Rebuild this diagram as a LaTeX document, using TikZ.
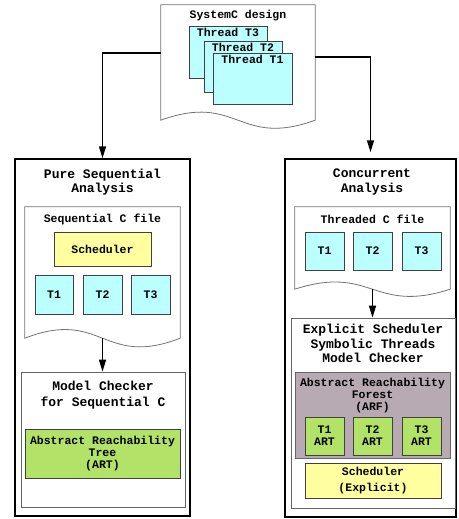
\documentclass[tikz,border=0pt]{standalone}
\usepackage{fontspec}
\setmainfont{Liberation Mono}
\usetikzlibrary{arrows.meta}
\definecolor{thrcyan}{RGB}{188,255,255}
\definecolor{schyel}{RGB}{255,255,160}
\definecolor{artgrn}{RGB}{178,226,104}
\definecolor{arfgry}{RGB}{184,170,178}
% document outline with a wavy bottom edge
\newcommand{\docwave}[3]{%
  \draw[docline] (#1.north west) -- (#1.north east) -- (#1.south east)
    .. controls +(-#2,#3) and +(#2,-#3) .. (#1.south west) -- cycle;}

\begin{document}
\begin{tikzpicture}[x=1pt,y=1pt,yscale=-1,xscale=1,
  bigbox/.style={draw=black,line width=1.5pt,fill=white,inner sep=0pt},
  panel/.style={draw=black!60,line width=0.8pt,fill=white,inner sep=0pt},
  docline/.style={draw=black!55,line width=0.8pt,fill=white},
  doc/.style={inner sep=0pt},
  tbox/.style={draw=black!75,line width=0.7pt,fill=thrcyan,inner sep=0pt},
  sbox/.style={draw=black!75,line width=0.7pt,fill=schyel,inner sep=0pt},
  abox/.style={draw=black!75,line width=0.7pt,fill=artgrn,inner sep=0pt},
  fbox/.style={draw=black!60,line width=0.8pt,fill=arfgry,inner sep=0pt},
  ttl/.style={font=\bfseries\fontsize{13}{14.5}\selectfont,align=center},
  txt/.style={font=\bfseries\fontsize{11.5}{12}\selectfont,align=center},
  flow/.style={line width=1.5pt,-{Triangle[length=12pt,width=7pt]}}
]
\useasboundingbox (0,0) rectangle (458,519);

% Text Node
\node[doc,minimum width=154,minimum height=115] (sysdoc) at (238,62.5) {};
\docwave{sysdoc}{77}{28}
\node[txt] (systtl) at (238,16) {SystemC design};
\node[tbox,minimum width=78,minimum height=52,label={[txt,anchor=north,inner sep=2pt]north:Thread T3}] (th3) at (228,52) {};
\node[tbox,minimum width=78,minimum height=51,label={[txt,anchor=north,inner sep=2pt]north:Thread T2}] (th2) at (243,66.5) {};
\node[tbox,minimum width=79,minimum height=51,label={[txt,anchor=north,inner sep=2pt]north:Thread T1}] (th1) at (252.5,78.5) {};

% Text Node
\node[bigbox,minimum width=175,minimum height=357] (leftbox) at (102.5,337.5) {};
\node[ttl] (lefttl) at (102.5,182) {Pure Sequential\\Analysis};
\node[doc,minimum width=155,minimum height=131] (seqdoc) at (102.5,272.5) {};
\docwave{seqdoc}{77.5}{30}
\node[txt] (seqttl) at (102.5,219) {Sequential C file};
\node[sbox,minimum width=97,minimum height=34,txt] (seqsch) at (102.5,249) {Scheduler};
\node[tbox,minimum width=38,minimum height=39,txt] (seqt1) at (54,294.5) {T1};
\node[tbox,minimum width=39,minimum height=39,txt] (seqt2) at (102.5,294.5) {T2};
\node[tbox,minimum width=39,minimum height=39,txt] (seqt3) at (150.5,294.5) {T3};
\node[panel,minimum width=164,minimum height=135] (mcbox) at (103,439.5) {};
\node[ttl,font=\bfseries\fontsize{13}{16}\selectfont] (mcttl) at (103,395) {Model Checker\\for Sequential C};
\node[abox,minimum width=155,minimum height=49,txt] (art) at (102.5,453.5) {Abstract Reachability\\Tree\\(ART)};

% Text Node
\node[bigbox,minimum width=171,minimum height=358] (rightbox) at (370.5,338) {};
\node[ttl] (rightttl) at (372,182) {Concurrent\\Analysis};
\node[doc,minimum width=155,minimum height=82] (thrdoc) at (372.5,248) {};
\docwave{thrdoc}{77.5}{25}
\node[txt] (thrttl) at (372.5,219) {Threaded C file};
\node[tbox,minimum width=39,minimum height=38,txt] (thrt1) at (324.5,251) {T1};
\node[tbox,minimum width=39,minimum height=38,txt] (thrt2) at (372.5,251) {T2};
\node[tbox,minimum width=39,minimum height=38,txt] (thrt3) at (421.5,251) {T3};
\node[panel,minimum width=164,minimum height=190] (escbox) at (373,413) {};
\node[ttl] (escttl) at (373,343.5) {Explicit Scheduler\\Symbolic Threads\\Model Checker};
\node[fbox,minimum width=155,minimum height=86,label={[txt,anchor=north,yshift=-3pt]north:{Abstract Reachability\\Forest\\(ARF)}}] (arf) at (372.5,415) {};
\node[abox,minimum width=39,minimum height=38,txt] (art1) at (324.5,436) {T1\\ART};
\node[abox,minimum width=39,minimum height=38,txt] (art2) at (372.5,436) {T2\\ART};
\node[abox,minimum width=39,minimum height=38,txt] (art3) at (421.5,436) {T3\\ART};
\node[sbox,minimum width=136,minimum height=35,txt,font=\bfseries\fontsize{11.5}{15.5}\selectfont] (escsch) at (373,480.5) {Scheduler\\(Explicit)};

% Connection
\draw[flow] ([yshift=-9.5pt]sysdoc.west) -| (leftbox.north);
% Connection
\draw[flow,shorten >=6pt] ([yshift=-5.5pt]sysdoc.east) -| (rightbox.north);
% Connection
\draw[flow] (seqdoc.south) -- (seqdoc.south |- mcbox.north);
% Connection
\draw[flow] (thrdoc.south) -- (thrdoc.south |- escbox.north);

\end{tikzpicture}
\end{document}
